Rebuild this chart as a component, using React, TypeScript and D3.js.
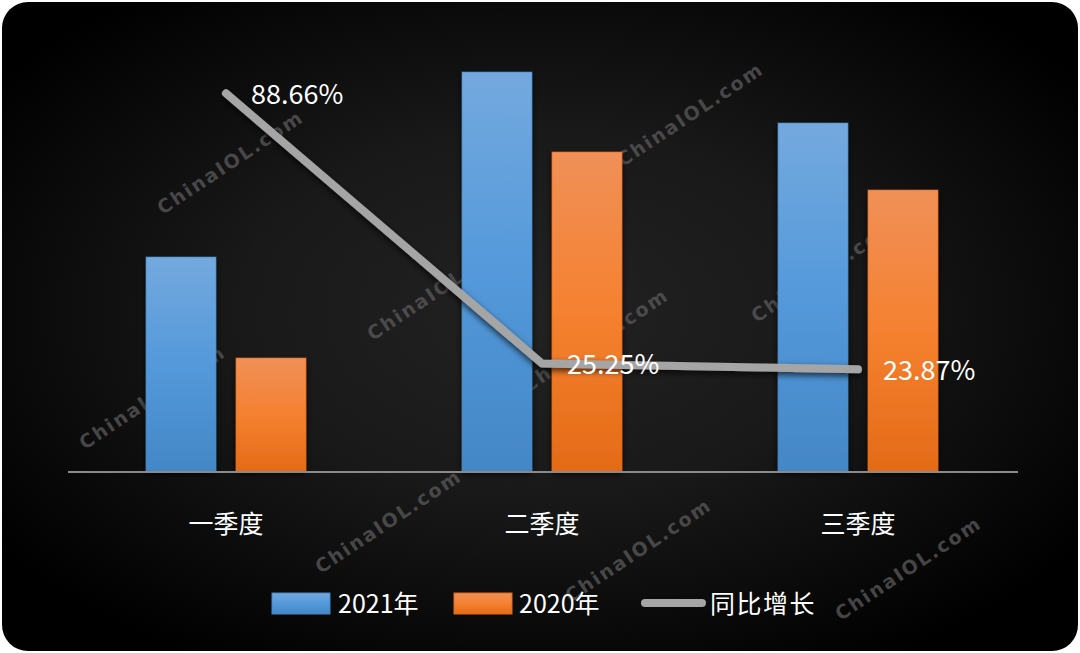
import React, { useEffect } from 'react';
import * as d3 from 'd3';

// data
const quarters = ['一季度', '二季度', '三季度'];
const seriesNames = ['2021年', '2020年'];
const sales2021 = [2.14, 3.99, 3.48];
const sales2020 = [1.13, 3.19, 2.81];
const growth = [88.66, 25.25, 23.87];
const growthName = '同比增长';

// watermark spots (decoration only)
const marks = [
  [230, 162], [152, 397], [440, 288], [388, 521], [690, 114],
  [595, 340], [824, 270], [638, 550], [908, 568],
];

const W = 1080;
const H = 653;
const FONT = '"Noto Sans CJK SC", "Noto Sans", sans-serif';
const blue = ['#74a9de', '#5499db', '#4487c6'];
const orange = ['#f09058', '#f58130', '#e46b17'];

const App: React.FC = () => {
  useEffect(() => {
    document.body.style.margin = '0';
    document.body.style.background = '#fff';
  }, []);

  const x = d3.scaleBand<string>().domain(quarters).range([68, 1016]);
  const xs = d3.scaleBand<string>()
    .domain(seriesNames)
    .range([0, x.bandwidth()])
    .paddingInner(2 / 9)
    .paddingOuter(78 / 90);
  const y = d3.scaleLinear().domain([0, 4]).range([471, 71]);
  const y2 = d3.scaleLinear().domain([0, 100]).range([471, 45]);

  const values = [sales2021, sales2020];
  const fills = ['url(#gBlue)', 'url(#gOrange)'];
  const strokes = [blue[2], orange[2]];

  const linePts: [number, number][] = quarters.map((q, i) => [x(q)! + x.bandwidth() / 2, y2(growth[i])]);
  const line = d3.line();

  const [x0, x1] = x.range();

  return (
    <svg width={W} height={H} style={{ display: 'block' }} fontFamily={FONT}>
      <defs>
        <radialGradient id="bg" cx="50%" cy="48%" r="62%">
          <stop offset="0%" stopColor="#222" />
          <stop offset="45%" stopColor="#191919" />
          <stop offset="100%" stopColor="#000" />
        </radialGradient>
        <linearGradient id="gBlue" x1="0" y1="0" x2="0" y2="1">
          <stop offset="0%" stopColor={blue[0]} />
          <stop offset="50%" stopColor={blue[1]} />
          <stop offset="100%" stopColor={blue[2]} />
        </linearGradient>
        <linearGradient id="gOrange" x1="0" y1="0" x2="0" y2="1">
          <stop offset="0%" stopColor={orange[0]} />
          <stop offset="50%" stopColor={orange[1]} />
          <stop offset="100%" stopColor={orange[2]} />
        </linearGradient>
        <filter id="shadow" x="-20%" y="-20%" width="140%" height="140%">
          <feDropShadow dx="0" dy="3" stdDeviation="3" floodColor="#000" floodOpacity="0.7" />
        </filter>
      </defs>

      <rect x={2} y={2} width={W - 4} height={H - 4} rx={26} fill="url(#bg)" />

      {marks.map(([mx, my], i) => (
        <text
          key={i}
          x={mx}
          y={my}
          transform={`rotate(-33.6 ${mx} ${my})`}
          textAnchor="middle"
          dominantBaseline="central"
          fontFamily='"DejaVu Sans", sans-serif'
          fontWeight="bold"
          fontSize={19}
          letterSpacing={2}
          fill="#5a5a5a"
          fillOpacity={0.75}
        >
          ChinaIOL.com
        </text>
      ))}

      {quarters.map((q, i) => (
        <g key={q} transform={`translate(${x(q)},0)`}>
          {seriesNames.map((s, j) => (
            <rect
              key={s}
              x={xs(s)}
              y={y(values[j][i])}
              width={xs.bandwidth()}
              height={y(0) - y(values[j][i])}
              fill={fills[j]}
              stroke={strokes[j]}
              strokeOpacity={0.6}
              strokeWidth={1}
              filter="url(#shadow)"
            />
          ))}
          <text
            x={x.bandwidth() / 2}
            y={522}
            textAnchor="middle"
            dominantBaseline="central"
            fontSize={25}
            fill="#fff"
          >
            {q}
          </text>
        </g>
      ))}

      <line x1={x0} x2={x1 + 2} y1={y(0) + 1} y2={y(0) + 1} stroke="#8a8a8a" strokeWidth={2} />

      <path
        d={line(linePts) || ''}
        fill="none"
        stroke="#a5a5a5"
        strokeWidth={8}
        strokeLinecap="round"
        strokeLinejoin="round"
        filter="url(#shadow)"
      />

      {linePts.map(([px, py], i) => (
        <text
          key={i}
          x={px + 25}
          y={py - 1}
          dominantBaseline="central"
          fontSize={27}
          fill="#fff"
        >
          {growth[i].toFixed(2)}%
        </text>
      ))}

      {/* legend */}
      <g fontSize={25} fill="#fff">
        <rect x={272} y={593} width={58} height={21} fill="url(#gBlue)" stroke={blue[2]} strokeWidth={1} />
        <text x={338} y={602} dominantBaseline="central">{seriesNames[0]}</text>
        <rect x={454} y={593} width={58} height={21} fill="url(#gOrange)" stroke={orange[2]} strokeWidth={1} />
        <text x={519} y={602} dominantBaseline="central">{seriesNames[1]}</text>
        <line x1={645} x2={702} y1={603} y2={603} stroke="#a5a5a5" strokeWidth={8} strokeLinecap="round" />
        <text x={710} y={602} dominantBaseline="central" letterSpacing={1.5}>{growthName}</text>
      </g>
    </svg>
  );
};

export default App;
